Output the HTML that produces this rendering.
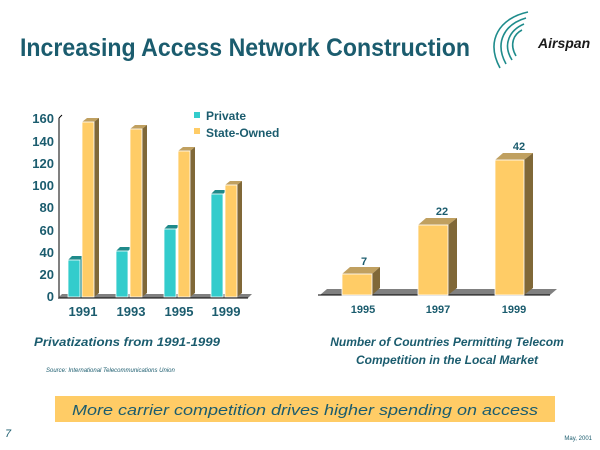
<!DOCTYPE html>
<html><head><style>
body{margin:0;background:#fff;}
svg{display:block;font-family:"Liberation Sans",Arial,sans-serif;}
</style></head><body>
<svg width="600" height="450" viewBox="0 0 600 450" xmlns="http://www.w3.org/2000/svg">
<rect width="600" height="450" fill="#fff"/>
<text x="20" y="56" font-size="25" font-weight="bold" fill="#1b5c6e" textLength="450" lengthAdjust="spacingAndGlyphs">Increasing Access Network Construction</text>
<!-- logo -->
<g fill="none" stroke="#1f8c8c" stroke-width="1.6">
<path d="M528 12 C500 18 485 40 500 68"/>
<path d="M526 18 C505 24 494 42 506 64"/>
<path d="M524 24 C510 30 502 44 512 60"/>
<path d="M522 30 C514 34 509 44 516 56"/>
</g>
<text x="538" y="48" font-size="14" font-weight="bold" font-style="italic" fill="#1a1a1a">Airspan</text>

<!-- left chart -->
<g font-size="13" font-weight="bold" fill="#1b5c6e" text-anchor="end">
<text x="54" y="123">160</text><text x="54" y="146">140</text><text x="54" y="168">120</text>
<text x="54" y="190">100</text><text x="54" y="212">80</text><text x="54" y="235">60</text>
<text x="54" y="257">40</text><text x="54" y="279">20</text><text x="54" y="301">0</text>
</g>
<line x1="59" y1="118" x2="59" y2="297" stroke="#000" stroke-width="1"/>
<line x1="59" y1="118" x2="62" y2="115" stroke="#000"/>
<polygon points="58,298 62,294 252,294 248,298" fill="#808080"/>
<line x1="58" y1="298" x2="248" y2="298" stroke="#000"/>
<g id="bars"></g>
<g>
<!-- private bars -->
<polygon points="68,260 72,256 84,256 80,260" fill="#1f8a8a"/><polygon points="80,260 84,256 84,294 80,298" fill="#1f8a8a"/><rect x="68" y="260" width="12" height="37" fill="#33cccc" stroke="#fff" stroke-width="0.8"/>
<polygon points="116,251 120,247 132,247 128,251" fill="#1f8a8a"/><rect x="116" y="251" width="12" height="46" fill="#33cccc" stroke="#fff" stroke-width="0.8"/>
<polygon points="164,229 168,225 180,225 176,229" fill="#1f8a8a"/><rect x="164" y="229" width="12" height="68" fill="#33cccc" stroke="#fff" stroke-width="0.8"/>
<polygon points="211,194 215,190 227,190 223,194" fill="#1f8a8a"/><rect x="211" y="194" width="12" height="103" fill="#33cccc" stroke="#fff" stroke-width="0.8"/>
<!-- state bars -->
<polygon points="82,122 87,118 99,118 94,122" fill="#c0a060"/><polygon points="94,122 99,118 99,293 94,297" fill="#806838"/><rect x="82" y="122" width="12" height="175" fill="#ffcc66" stroke="#fff" stroke-width="0.8"/>
<polygon points="130,129 135,125 147,125 142,129" fill="#c0a060"/><polygon points="142,129 147,125 147,293 142,297" fill="#806838"/><rect x="130" y="129" width="12" height="168" fill="#ffcc66" stroke="#fff" stroke-width="0.8"/>
<polygon points="178,151 183,147 195,147 190,151" fill="#c0a060"/><polygon points="190,151 195,147 195,293 190,297" fill="#806838"/><rect x="178" y="151" width="12" height="146" fill="#ffcc66" stroke="#fff" stroke-width="0.8"/>
<polygon points="225,185 230,181 242,181 237,185" fill="#c0a060"/><polygon points="237,185 242,181 242,293 237,297" fill="#806838"/><rect x="225" y="185" width="12" height="112" fill="#ffcc66" stroke="#fff" stroke-width="0.8"/>
</g>
<g font-size="13" font-weight="bold" fill="#1b5c6e" text-anchor="middle">
<text x="83" y="316">1991</text><text x="131" y="316">1993</text><text x="179" y="316">1995</text><text x="226" y="316">1999</text>
</g>
<rect x="194" y="112" width="6" height="6" fill="#33cccc"/>
<rect x="194" y="128" width="6" height="6" fill="#ffcc66"/>
<text x="206" y="120" font-size="12" font-weight="bold" fill="#1b5c6e">Private</text>
<text x="206" y="137" font-size="12" font-weight="bold" fill="#1b5c6e">State-Owned</text>

<!-- right chart -->
<polygon points="320,295 327,289 557,289 550,295" fill="#808080"/>
<line x1="318" y1="295" x2="550" y2="295" stroke="#000"/>
<polygon points="342,274 350,267 380,267 372,274" fill="#c0a060"/><polygon points="372,274 380,267 380,288 372,295" fill="#806838"/><rect x="342" y="274" width="30" height="21" fill="#ffcc66" stroke="#fff" stroke-width="0.8"/>
<polygon points="418,225 426,218 457,218 448,225" fill="#c0a060"/><polygon points="448,225 457,218 457,288 448,295" fill="#806838"/><rect x="418" y="225" width="30" height="70" fill="#ffcc66" stroke="#fff" stroke-width="0.8"/>
<polygon points="495,160 503,153 533,153 524,160" fill="#c0a060"/><polygon points="524,160 533,153 533,288 524,295" fill="#806838"/><rect x="495" y="160" width="29" height="135" fill="#ffcc66" stroke="#fff" stroke-width="0.8"/>
<g font-size="11" font-weight="bold" fill="#1b5c6e" text-anchor="middle">
<text x="364" y="265">7</text><text x="442" y="215">22</text><text x="519" y="150">42</text>
<text x="363" y="313">1995</text><text x="438" y="313">1997</text><text x="514" y="313">1999</text>
</g>

<text x="34" y="346" font-size="12" font-weight="bold" font-style="italic" fill="#1b5c6e" textLength="186" lengthAdjust="spacingAndGlyphs">Privatizations from 1991-1999</text>
<text x="46" y="372" font-size="6" font-style="italic" fill="#1b5c6e">Source: International Telecommunications Union</text>
<text x="447" y="346" font-size="12" font-weight="bold" font-style="italic" fill="#1b5c6e" text-anchor="middle">Number of Countries Permitting Telecom</text>
<text x="447" y="364" font-size="12" font-weight="bold" font-style="italic" fill="#1b5c6e" text-anchor="middle">Competition in the Local Market</text>

<rect x="55" y="396" width="500" height="26" fill="#ffcc66"/>
<text x="305" y="415" font-size="15" font-style="italic" fill="#1b5c6e" text-anchor="middle" textLength="466" lengthAdjust="spacingAndGlyphs">More carrier competition drives higher spending on access</text>
<text x="5" y="437" font-size="11" font-style="italic" fill="#1b5c6e">7</text>
<text x="592" y="440" font-size="6" fill="#1b5c6e" text-anchor="end">May, 2001</text>
</svg>
</body></html>
